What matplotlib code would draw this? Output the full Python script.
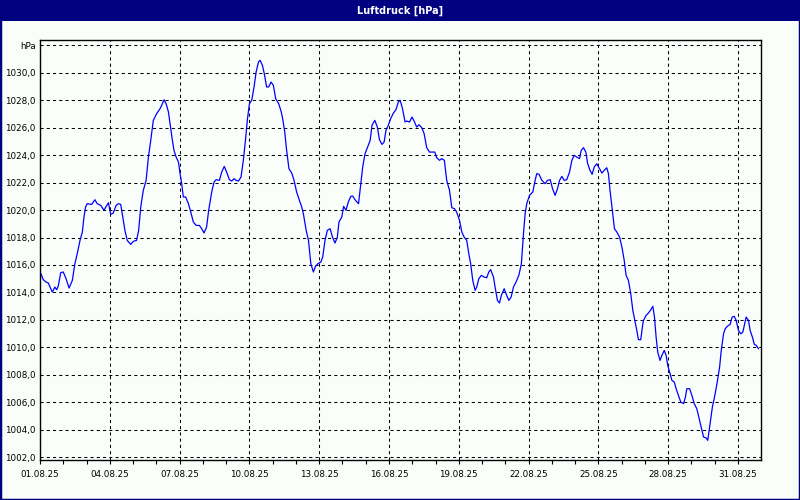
import matplotlib
matplotlib.use('Agg')
import matplotlib.pyplot as plt
import matplotlib.dates as mdates
from matplotlib.patches import Rectangle
import pandas as pd

title = 'Luftdruck [hPa]'
start = '2025-08-01'
unit_label = 'hPa'
y_ticks = [1002, 1004, 1006, 1008, 1010, 1012, 1014, 1016, 1018, 1020, 1022, 1024, 1026, 1028, 1030]

# days since 01.08.25 00:00
days = [0.04, 0.14, 0.26, 0.36, 0.43, 0.53, 0.64, 0.72, 0.79, 0.89, 1.00, 1.12, 1.25, 1.39, 1.50, 1.60,
        1.72, 1.82, 1.89, 1.96, 2.03, 2.22, 2.36, 2.46, 2.61, 2.75, 2.87, 2.94, 3.04, 3.15, 3.27, 3.37,
        3.47, 3.58, 3.65, 3.75, 3.90, 4.01, 4.15, 4.24, 4.33, 4.44, 4.56, 4.66, 4.76, 4.87, 5.01, 5.16,
        5.23, 5.33, 5.42, 5.52, 5.59, 5.69, 5.76, 5.85, 5.95, 6.02, 6.09, 6.16, 6.26, 6.38, 6.48, 6.59,
        6.71, 6.85, 6.95, 7.05, 7.16, 7.25, 7.38, 7.48, 7.57, 7.71, 7.81, 7.92, 8.02, 8.14, 8.24, 8.34,
        8.43, 8.53, 8.64, 8.74, 8.83, 8.91, 9.00, 9.10, 9.20, 9.29, 9.39, 9.46, 9.56, 9.64, 9.74, 9.83,
        9.93, 10.03, 10.13, 10.26, 10.37,
        10.43, 10.52, 10.60, 10.70, 10.82, 10.92, 11.03, 11.15, 11.25, 11.32, 11.44, 11.54, 11.64, 11.75,
        11.84, 11.94, 12.07, 12.15, 12.25, 12.35, 12.47, 12.57, 12.68, 12.78, 12.85, 12.97, 13.05, 13.15,
        13.25, 13.36, 13.44, 13.54, 13.69, 13.79, 13.87, 13.97, 14.07, 14.19, 14.27, 14.39, 14.50, 14.59,
        14.70, 14.79, 14.87, 14.97, 15.07, 15.19, 15.30, 15.40, 15.48, 15.58,
        15.69, 15.76, 15.88, 15.99, 16.08, 16.19, 16.29, 16.41, 16.51, 16.62, 16.74, 16.85, 16.97, 17.05,
        17.17, 17.27, 17.38, 17.48, 17.60, 17.70, 17.81, 17.91, 18.03, 18.13, 18.23, 18.34, 18.43, 18.51,
        18.60, 18.70, 18.77, 18.86, 18.97, 19.09, 19.20, 19.29, 19.37, 19.49, 19.56, 19.66, 19.75, 19.83,
        19.95, 20.03, 20.15, 20.25, 20.35, 20.46, 20.58, 20.69,
        20.78, 20.85, 20.92, 21.04, 21.18, 21.28, 21.35, 21.45, 21.57, 21.71, 21.81, 21.93, 22.03, 22.14,
        22.24, 22.33, 22.43, 22.53, 22.64, 22.76, 22.86, 22.96, 23.07, 23.19, 23.26, 23.36, 23.46, 23.54,
        23.64, 23.73, 23.82, 23.93, 24.05, 24.15, 24.25, 24.36, 24.43, 24.50, 24.60, 24.69, 24.79, 24.91,
        25.01, 25.11, 25.19, 25.29, 25.39, 25.48, 25.58, 25.65, 25.72, 25.82, 25.91,
        25.94, 26.05, 26.15, 26.25, 26.34, 26.41, 26.48, 26.55, 26.65, 26.73, 26.83, 26.91, 26.98, 27.08,
        27.16, 27.26, 27.34, 27.44, 27.54, 27.66, 27.74, 27.80, 27.92, 28.02, 28.12, 28.23, 28.35, 28.45,
        28.52, 28.62, 28.70, 28.80, 28.90, 29.02, 29.12, 29.21, 29.28, 29.38, 29.45, 29.55, 29.66, 29.75,
        29.84, 29.92, 30.02, 30.12, 30.21, 30.27, 30.35, 30.45, 30.52, 30.62, 30.70, 30.78, 30.88]

hpa = [1015.36, 1014.93, 1014.76, 1014.68, 1014.39, 1014.03, 1014.39, 1014.20, 1014.50, 1015.44, 1015.49,
       1015.00, 1014.32, 1014.88, 1016.09, 1016.82, 1017.79, 1018.40, 1019.49, 1020.22, 1020.46, 1020.41,
       1020.75, 1020.46, 1020.34, 1019.98, 1020.34, 1020.53, 1019.68, 1019.78, 1020.34, 1020.46, 1020.41,
       1019.25, 1018.52, 1017.79, 1017.50, 1017.72, 1017.79, 1018.52, 1020.22, 1021.43, 1022.16, 1023.86,
       1025.07, 1026.53, 1027.01, 1027.38,
       1027.62, 1028.03, 1027.74, 1027.14, 1026.29, 1025.07, 1024.34, 1023.86, 1023.50, 1022.65, 1021.92,
       1020.95, 1020.95, 1020.46, 1019.85, 1019.13, 1018.88, 1018.88, 1018.64, 1018.33, 1018.76, 1019.98,
       1021.31, 1022.04, 1022.21, 1022.16, 1022.77, 1023.18, 1022.77, 1022.21, 1022.11, 1022.28, 1022.16,
       1022.11, 1022.40, 1023.62, 1025.07, 1026.53, 1027.74, 1027.99, 1028.96, 1030.05, 1030.78, 1030.90,
       1030.53, 1029.93, 1028.96, 1028.96, 1029.32, 1029.08, 1028.11, 1027.74, 1027.14,
       1026.65, 1025.68, 1024.34, 1023.01, 1022.69, 1022.16, 1021.31, 1020.70, 1020.22, 1019.73, 1018.52,
       1017.79, 1016.09, 1015.49, 1015.90, 1016.09, 1016.21, 1016.58, 1017.79, 1018.52, 1018.64, 1018.03,
       1017.60, 1018.03, 1019.13, 1019.49, 1020.27, 1019.98, 1020.58, 1021.00, 1021.02, 1020.75, 1020.46,
       1021.92, 1023.13, 1024.10, 1024.54, 1025.07, 1026.17, 1026.53, 1026.04, 1025.12, 1024.78, 1024.95,
       1025.80, 1026.17, 1026.65, 1027.06, 1027.31, 1027.86, 1027.99, 1027.38,
       1026.41, 1026.48, 1026.41, 1026.77, 1026.48, 1026.04, 1026.21, 1025.99, 1025.56, 1024.54, 1024.22,
       1024.22, 1024.22, 1023.81, 1023.62, 1023.74, 1023.62, 1022.16, 1021.43, 1020.17, 1020.10, 1019.85,
       1019.25, 1018.40, 1018.03, 1017.79, 1016.82, 1016.09, 1014.88, 1014.15, 1014.39, 1015.00, 1015.24,
       1015.12, 1015.07, 1015.49, 1015.66, 1015.12, 1014.39, 1013.42, 1013.23, 1013.79, 1014.27, 1013.91,
       1013.42, 1013.67, 1014.39, 1014.76, 1015.24, 1016.09,
       1018.28, 1019.73, 1020.46, 1021.07, 1021.31, 1022.16, 1022.65, 1022.60, 1022.16, 1021.92, 1022.16,
       1022.21, 1021.55, 1021.07, 1021.55, 1022.16, 1022.45, 1022.16, 1022.21, 1022.77, 1023.62, 1023.98,
       1023.86, 1023.74, 1024.34, 1024.54, 1024.22, 1023.37, 1022.89, 1022.60, 1023.13, 1023.37, 1023.01,
       1022.69, 1022.89, 1023.08, 1022.65, 1021.43, 1019.98, 1018.64, 1018.40, 1018.03, 1017.31, 1016.33,
       1015.24, 1014.88, 1013.91, 1012.69, 1011.84, 1011.24, 1010.56, 1010.56, 1011.72,
       1011.97, 1012.33, 1012.50, 1012.74, 1012.99, 1012.21, 1010.75, 1009.66, 1009.05, 1009.42, 1009.78,
       1009.42, 1008.69, 1008.08, 1007.60, 1007.48, 1006.99, 1006.50, 1006.02, 1005.90, 1006.38, 1006.99,
       1006.99, 1006.50, 1005.90, 1005.53, 1004.68, 1003.96, 1003.47, 1003.42, 1003.23, 1004.44, 1005.66,
       1006.63, 1007.60, 1008.57, 1009.78, 1010.99, 1011.36, 1011.55, 1011.67, 1012.21, 1012.26, 1011.97,
       1011.24, 1010.99, 1011.12, 1011.60, 1012.21, 1011.97, 1011.24, 1010.75, 1010.22, 1010.15, 1009.90]

t0 = pd.Timestamp(start)
times = t0 + pd.to_timedelta(days, unit='D')

navy = '#000080'
bg = '#fafefa'

fig = plt.figure(figsize=(8, 5), dpi=100, facecolor=bg)
ax = fig.add_axes([0.05, 0.08, 0.901, 0.84])
ax.set_facecolor(bg)

ax.plot(times, hpa, color='#0000ff', lw=0.9)

ax.set_xlim(t0, t0 + pd.Timedelta(days=30.98))
ax.set_ylim(1001.8, 1032.38)

ax.set_yticks(y_ticks + [1032])
ax.set_yticklabels([('%.1f' % v).replace('.', ',') for v in y_ticks] + [unit_label])

ax.xaxis.set_major_locator(mdates.DayLocator(bymonthday=range(1, 32, 3)))
ax.xaxis.set_minor_locator(mdates.DayLocator())
ax.xaxis.set_major_formatter(mdates.DateFormatter('%d.%m.%y'))

ax.grid(True, which='major', color='black', ls=(0, (3, 3)), lw=0.75)
ax.tick_params(axis='y', length=0, pad=3, labelsize=6.3, colors='black')
ax.tick_params(axis='x', which='major', length=3, width=0.8, pad=4, labelsize=6.3, colors='black')
ax.tick_params(axis='x', which='minor', length=3, width=0.8)
for s in ax.spines.values():
    s.set_linewidth(1.0)
    s.set_color('black')

# title bar and frame
fig.patches.append(Rectangle((0, 1 - 21 / 500), 1, 21 / 500, transform=fig.transFigure,
                             facecolor=navy, edgecolor='none', zorder=0))
fig.patches.append(Rectangle((0, 0), 1, 1, transform=fig.transFigure, fill=False,
                             edgecolor=navy, lw=2.5, zorder=5))
fig.text(0.5, 1 - 10.5 / 500, title, color='white', fontsize=7, fontweight='bold',
         ha='center', va='center')

fig.savefig('out.png', dpi=100, facecolor=bg)
